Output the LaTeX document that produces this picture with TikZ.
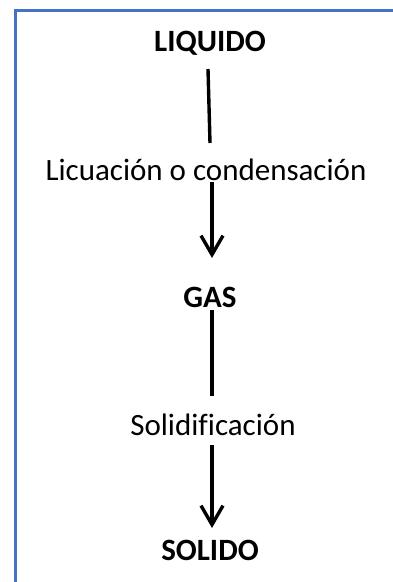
\documentclass[tikz,border=0pt]{standalone}
\usepackage{fontspec}
\setmainfont{Carlito}[Ligatures=NoCommon]
\usetikzlibrary{arrows.meta}
\definecolor{frameblue}{HTML}{4472C4}
\tikzset{
  state/.style={font=\bfseries\fontsize{31}{34}\selectfont, inner sep=0pt, anchor=center},
  proc/.style={font=\fontsize{31}{34}\selectfont, inner sep=0pt, anchor=center},
  conn/.style={line width=3.4pt, black},
  arr/.style={conn, -{Straight Barb[length=19pt, width=22pt, line width=3.4pt]}}
}
\begin{document}
\begin{tikzpicture}[x=1pt, y=-1pt]
\useasboundingbox (0,0) rectangle (393,582);
\draw[frameblue, line width=2.5pt] (15.5,600) -- (15.5,10.5) -- (400,10.5);
\node[state] (liq) at (210,43) {LIQUIDO};
\node[proc] (lic) at (206,170) {Licuación o condensación};
\node[state] (gas) at (210,297) {GAS};
\node[proc] (sol) at (213,425) {Solidificación};
\node[state] (soli) at (210,550) {SOLIDO};
\coordinate (a1) at (208,69);
\coordinate (b1) at (210,143);
\coordinate (a2) at (212,182);
\coordinate (b2) at (212,258);
\coordinate (a3) at (212,310);
\coordinate (b3) at (212,396);
\coordinate (a4) at (212,445);
\coordinate (b4) at (212,528);
\draw[conn] (a1) -- (b1);
\draw[arr] (a2) -- (b2);
\draw[conn] (a3) -- (b3);
\draw[arr] (a4) -- (b4);
\end{tikzpicture}
\end{document}
